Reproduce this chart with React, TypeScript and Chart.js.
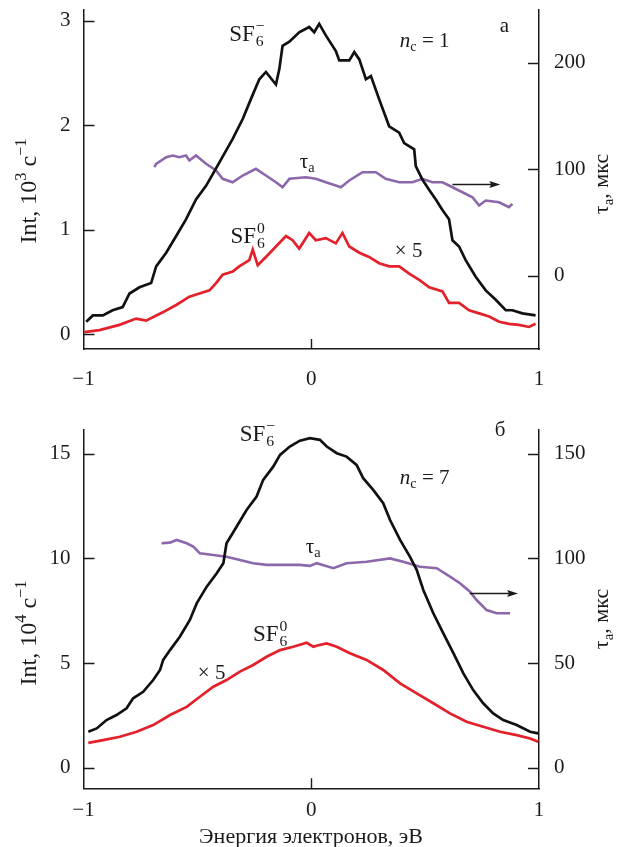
import React, { useEffect, useRef } from "react";
import { Chart, registerables } from "chart.js";

Chart.register(...registerables);

const FONT = '"Liberation Serif", "Times New Roman", serif';
const INK = "#1a1a1a";
const BLACK = "#111111";
const RED = "#e4202a";
const PURPLE = "#8c67aa";

// ---------- Panel "а" (n_c = 1) ----------
const topSfMinusX = [-0.988,-0.959,-0.915,-0.872,-0.828,-0.798,-0.754,-0.703,-0.681,-0.637,-0.593,-0.550,-0.506,-0.462,-0.433,-0.389,-0.345,-0.301,-0.265,-0.228,-0.199,-0.155,-0.140,-0.126,-0.096,-0.053,-0.009,0.013,0.035,0.064,0.108,0.123,0.167,0.189,0.211,0.240,0.262,0.298,0.342,0.386,0.408,0.452,0.459,0.488,0.518,0.547,0.576,0.605,0.620,0.649,0.678,0.722,0.766,0.810,0.854,0.883,0.927,0.985];
const topSfMinusY = [0.12,0.18,0.18,0.23,0.26,0.39,0.45,0.49,0.65,0.78,0.94,1.10,1.29,1.42,1.53,1.70,1.87,2.06,2.25,2.44,2.51,2.39,2.54,2.76,2.80,2.89,2.94,2.89,2.97,2.86,2.71,2.62,2.62,2.70,2.63,2.44,2.47,2.25,1.99,1.93,1.83,1.77,1.61,1.48,1.38,1.29,1.19,1.10,0.90,0.84,0.71,0.55,0.42,0.33,0.23,0.23,0.20,0.18];
const topSfZeroX = [-0.996,-0.930,-0.842,-0.769,-0.725,-0.652,-0.593,-0.535,-0.491,-0.447,-0.418,-0.389,-0.345,-0.316,-0.272,-0.257,-0.235,-0.199,-0.155,-0.111,-0.082,-0.053,-0.009,0.020,0.064,0.108,0.137,0.167,0.211,0.254,0.298,0.342,0.386,0.430,0.474,0.518,0.576,0.605,0.649,0.693,0.737,0.781,0.825,0.868,0.912,0.956,0.985];
const topSfZeroY = [0.02,0.04,0.09,0.15,0.13,0.21,0.28,0.36,0.39,0.42,0.49,0.57,0.60,0.65,0.71,0.81,0.66,0.74,0.84,0.94,0.90,0.82,0.97,0.90,0.92,0.87,0.97,0.84,0.78,0.74,0.68,0.65,0.65,0.58,0.52,0.45,0.41,0.30,0.30,0.23,0.20,0.17,0.12,0.10,0.09,0.07,0.10];
const topTauX = [-0.689,-0.681,-0.637,-0.608,-0.579,-0.550,-0.535,-0.506,-0.462,-0.418,-0.389,-0.345,-0.301,-0.243,-0.199,-0.155,-0.126,-0.096,-0.023,0.020,0.064,0.108,0.130,0.167,0.225,0.284,0.327,0.386,0.444,0.488,0.532,0.576,0.605,0.664,0.708,0.737,0.766,0.825,0.868,0.883];
const topTauY = [101.7,104.9,111.1,112.7,111.1,112.7,108.0,112.7,104.9,98.6,90.8,87.6,93.9,100.2,93.9,87.6,82.9,90.8,92.3,90.8,87.6,84.5,82.9,89.2,97.0,97.0,90.8,87.6,87.6,90.8,87.6,87.6,84.5,78.2,73.5,65.7,70.4,68.8,64.1,67.3];

// ---------- Panel "б" (n_c = 7) ----------
const botSfMinusX = [-0.979,-0.942,-0.899,-0.855,-0.811,-0.782,-0.738,-0.694,-0.664,-0.650,-0.620,-0.577,-0.533,-0.503,-0.459,-0.415,-0.386,-0.372,-0.328,-0.284,-0.240,-0.211,-0.167,-0.137,-0.094,-0.050,-0.006,0.038,0.068,0.112,0.155,0.199,0.228,0.272,0.316,0.346,0.390,0.433,0.463,0.492,0.536,0.580,0.624,0.668,0.711,0.755,0.799,0.843,0.902,0.961,0.997];
const botSfMinusY = [1.72,1.88,2.28,2.52,2.84,3.32,3.63,4.19,4.67,5.15,5.62,6.26,7.06,7.85,8.65,9.29,9.77,10.72,11.51,12.31,12.95,13.75,14.38,14.94,15.34,15.62,15.74,15.66,15.34,15.02,14.86,14.46,13.83,13.27,12.63,11.83,10.88,10.08,9.45,8.49,7.38,6.42,5.47,4.51,3.71,3.08,2.60,2.28,2.04,1.72,1.64];
const botSfZeroX = [-0.979,-0.914,-0.840,-0.767,-0.694,-0.620,-0.547,-0.489,-0.430,-0.372,-0.313,-0.255,-0.196,-0.137,-0.079,-0.020,0.009,0.031,0.068,0.112,0.170,0.243,0.316,0.390,0.463,0.536,0.609,0.682,0.755,0.829,0.902,0.961,0.997];
const botSfZeroY = [1.19,1.32,1.48,1.72,2.04,2.52,2.91,3.39,3.87,4.19,4.59,4.91,5.30,5.62,5.78,5.97,5.78,5.85,5.94,5.78,5.47,5.15,4.67,4.03,3.55,3.08,2.60,2.20,1.96,1.72,1.56,1.40,1.24];
const botTauX = [-0.657,-0.621,-0.591,-0.547,-0.518,-0.489,-0.430,-0.372,-0.313,-0.255,-0.196,-0.108,-0.050,-0.006,0.024,0.097,0.155,0.243,0.346,0.404,0.477,0.551,0.609,0.653,0.697,0.726,0.770,0.814,0.873];
const botTauY = [107.2,107.5,108.8,107.2,105.6,102.4,101.6,100.8,99.2,97.7,96.9,96.9,96.9,96.4,97.7,95.3,97.7,98.4,100.0,98.4,96.0,95.3,91.3,88.1,84.1,80.1,75.3,73.8,73.8];

// ---------- Ticks ----------
const xTicks = [-1, 0, 1];
const topLeftTicks = [0, 1, 2, 3];
const topRightTicks = [0, 100, 200];
const botLeftTicks = [0, 5, 10, 15];
const botRightTicks = [0, 50, 100, 150];

type Seg = { t?: string; k?: "n" | "i" | "sub" | "sup"; sub?: string; sup?: string };

function drawRich(ctx: CanvasRenderingContext2D, segs: Seg[], x: number, y: number, size: number, align: "left" | "center") {
  const small = size * 0.68;
  const fontOf = (s: Seg) => {
    if (s.k === "sub" || s.k === "sup") return `${small}px ${FONT}`;
    if (s.k === "i") return `italic ${size}px ${FONT}`;
    return `${size}px ${FONT}`;
  };
  const widths = segs.map((s) => {
    if (s.sub !== undefined || s.sup !== undefined) {
      ctx.font = `${small}px ${FONT}`;
      return Math.max(ctx.measureText(s.sub || "").width, ctx.measureText(s.sup || "").width) + 1;
    }
    ctx.font = fontOf(s);
    return ctx.measureText(s.t || "").width;
  });
  const total = widths.reduce((a, b) => a + b, 0);
  let cx = align === "center" ? x - total / 2 : x;
  const base = y + size * 0.33;
  ctx.textAlign = "left";
  ctx.textBaseline = "alphabetic";
  segs.forEach((s, i) => {
    if (s.sub !== undefined || s.sup !== undefined) {
      ctx.font = `${small}px ${FONT}`;
      if (s.sub) ctx.fillText(s.sub, cx + 1, base + size * 0.24);
      if (s.sup) ctx.fillText(s.sup, cx + 1, base - size * 0.42);
    } else {
      ctx.font = fontOf(s);
      let yy = base;
      if (s.k === "sub") yy = base + size * 0.22;
      if (s.k === "sup") yy = base - size * 0.42;
      ctx.fillText(s.t || "", cx, yy);
    }
    cx += widths[i];
  });
}

type Ann = { x: number; y: number; axis: "y" | "y2"; segs: Seg[]; size: number };

const decorPlugin = {
  id: "decor",
  afterDraw(chart: any, _args: any, opts: any) {
    const { ctx, chartArea } = chart;
    const xs = chart.scales.x;
    const yl = chart.scales.y;
    const yr = chart.scales.y2;
    ctx.save();
    ctx.strokeStyle = INK;
    ctx.fillStyle = INK;
    ctx.lineWidth = 1.4;
    // inward tick marks
    ctx.beginPath();
    (opts.leftTicks || []).forEach((v: number) => {
      const p = Math.round(yl.getPixelForValue(v)) + 0.5;
      ctx.moveTo(chartArea.left, p);
      ctx.lineTo(chartArea.left + 11, p);
    });
    (opts.rightTicks || []).forEach((v: number) => {
      const p = Math.round(yr.getPixelForValue(v)) + 0.5;
      ctx.moveTo(chartArea.right, p);
      ctx.lineTo(chartArea.right - 11, p);
    });
    [0].forEach((v: number) => {
      const p = Math.round(xs.getPixelForValue(v)) + 0.5;
      ctx.moveTo(p, chartArea.bottom);
      ctx.lineTo(p, chartArea.bottom - 10);
    });
    ctx.stroke();

    // arrow
    const a = opts.arrow;
    if (a) {
      const x1 = xs.getPixelForValue(a.x1);
      const x2 = xs.getPixelForValue(a.x2);
      const py = Math.round(yr.getPixelForValue(a.y)) + 0.5;
      ctx.lineWidth = 1.3;
      ctx.beginPath();
      ctx.moveTo(x1, py);
      ctx.lineTo(x2 - 6, py);
      ctx.stroke();
      ctx.beginPath();
      ctx.moveTo(x2, py);
      ctx.lineTo(x2 - 11, py - 3.5);
      ctx.lineTo(x2 - 9, py);
      ctx.lineTo(x2 - 11, py + 3.5);
      ctx.closePath();
      ctx.fill();
    }

    // annotations
    ctx.fillStyle = INK;
    (opts.anns || []).forEach((an: Ann) => {
      const px = xs.getPixelForValue(an.x);
      const py = (an.axis === "y2" ? yr : yl).getPixelForValue(an.y);
      drawRich(ctx, an.segs, px, py, an.size, "left");
    });

    // axis titles
    const lt = opts.leftTitle;
    if (lt) {
      ctx.save();
      ctx.translate(lt.x, lt.y);
      ctx.rotate(-Math.PI / 2);
      drawRich(ctx, lt.segs, 0, 0, lt.size, "center");
      ctx.restore();
    }
    const rt = opts.rightTitle;
    if (rt) {
      ctx.save();
      ctx.translate(rt.x, rt.y);
      ctx.rotate(-Math.PI / 2);
      drawRich(ctx, rt.segs, 0, 0, rt.size, "center");
      ctx.restore();
    }
    const xt = opts.xTitle;
    if (xt) {
      drawRich(ctx, xt.segs, xt.x, xt.y, xt.size, "center");
    }
    ctx.restore();
  },
};

const pts = (xs: number[], ys: number[]) => xs.map((x, i) => ({ x, y: ys[i] }));
const fmt = (v: number) => (v < 0 ? "\u2212" + Math.abs(v) : String(v));

function makeConfig(p: any) {
  const tickFont = { family: FONT, size: 21 };
  const noPadV = (s: any) => { s.paddingTop = 0; s.paddingBottom = 0; };
  return {
    type: "line",
    data: {
      datasets: [
        { data: pts(p.blackX, p.blackY), yAxisID: "y", borderColor: BLACK, borderWidth: 2.7, pointRadius: 0, tension: 0 },
        { data: pts(p.redX, p.redY), yAxisID: "y", borderColor: RED, borderWidth: 2.7, pointRadius: 0, tension: 0 },
        { data: pts(p.tauX, p.tauY), yAxisID: "y2", borderColor: PURPLE, borderWidth: 2.6, pointRadius: 0, tension: 0 },
      ],
    },
    options: {
      responsive: false,
      animation: false,
      devicePixelRatio: 1,
      layout: { padding: { top: p.padTop, left: 0, right: 0, bottom: 0 } },
      plugins: {
        legend: { display: false },
        tooltip: { enabled: false },
        decor: p.decor,
      },
      scales: {
        x: {
          type: "linear",
          min: -1,
          max: 1,
          afterBuildTicks: (s: any) => { s.ticks = xTicks.map((v) => ({ value: v })); },
          afterFit: (s: any) => { s.height = p.xAxisH; s.paddingLeft = 0; s.paddingRight = 0; },
          grid: { display: false, drawTicks: false },
          border: { display: true, color: INK, width: 1.5 },
          ticks: { font: tickFont, color: INK, padding: p.xPad, callback: (v: any) => fmt(v), maxRotation: 0 },
        },
        y: {
          position: "left",
          min: p.yMin,
          max: p.yMax,
          afterBuildTicks: (s: any) => { s.ticks = p.leftTicks.map((v: number) => ({ value: v })); },
          afterFit: (s: any) => { s.width = 83.5; noPadV(s); },
          grid: { display: false, drawTicks: false },
          border: { display: true, color: INK, width: 1.5 },
          ticks: { font: tickFont, color: INK, padding: 13, callback: (v: any) => fmt(v) },
        },
        y2: {
          position: "right",
          min: p.y2Min,
          max: p.y2Max,
          afterBuildTicks: (s: any) => { s.ticks = p.rightTicks.map((v: number) => ({ value: v })); },
          afterFit: (s: any) => { s.width = 79; noPadV(s); },
          grid: { display: false, drawTicks: false },
          border: { display: true, color: INK, width: 1.5 },
          ticks: { font: tickFont, color: INK, padding: 15, callback: (v: any) => fmt(v) },
        },
      },
    },
    plugins: [decorPlugin],
  };
}

const sfMinus: Seg[] = [{ t: "SF" }, { sub: "6", sup: "\u2212" }];
const sfZero: Seg[] = [{ t: "SF" }, { sub: "6", sup: "0" }];
const tauSegs: Seg[] = [{ t: "\u03C4" }, { t: "a", k: "sub" }];
const times5: Seg[] = [{ t: "\u00D7 5" }];
const tauTitle: Seg[] = [{ t: "\u03C4" }, { t: "a", k: "sub" }, { t: ", \u043C\u043A\u0441" }];

const topParams = {
  blackX: topSfMinusX, blackY: topSfMinusY,
  redX: topSfZeroX, redY: topSfZeroY,
  tauX: topTauX, tauY: topTauY,
  yMin: -0.141, yMax: 3.103, y2Min: -69.0, y2Max: 249.3,
  leftTicks: topLeftTicks, rightTicks: topRightTicks,
  padTop: 10, xAxisH: 51, xPad: 18,
  decor: {
    leftTicks: topLeftTicks,
    rightTicks: topRightTicks,
    arrow: { x1: 0.62, x2: 0.83, y: 86 },
    anns: [
      { x: -0.36, y: 2.88, axis: "y", segs: sfMinus, size: 23 },
      { x: 0.389, y: 2.82, axis: "y", segs: [{ t: "n", k: "i" }, { t: "c", k: "sub" }, { t: " = 1" }], size: 21 },
      { x: 0.828, y: 2.96, axis: "y", segs: [{ t: "\u0430" }], size: 21 },
      { x: -0.05, y: 1.66, axis: "y", segs: tauSegs, size: 21 },
      { x: -0.355, y: 0.95, axis: "y", segs: sfZero, size: 23 },
      { x: 0.367, y: 0.81, axis: "y", segs: times5, size: 21 },
    ],
    leftTitle: { x: 28, y: 191, size: 24, segs: [{ t: "Int, 10" }, { t: "3", k: "sup" }, { t: " \u0441" }, { t: "\u22121", k: "sup" }] },
    rightTitle: { x: 601, y: 184, size: 22, segs: tauTitle },
  },
};

const botParams = {
  blackX: botSfMinusX, blackY: botSfMinusY,
  redX: botSfZeroX, redY: botSfZeroY,
  tauX: botTauX, tauY: botTauY,
  yMin: -0.98, yMax: 16.13, y2Min: -9.8, y2Max: 161.3,
  leftTicks: botLeftTicks, rightTicks: botRightTicks,
  padTop: 30, xAxisH: 58.7, xPad: 10,
  decor: {
    leftTicks: botLeftTicks,
    rightTicks: botRightTicks,
    arrow: { x1: 0.696, x2: 0.908, y: 83.3 },
    anns: [
      { x: -0.314, y: 15.99, axis: "y", segs: sfMinus, size: 23 },
      { x: 0.806, y: 16.18, axis: "y", segs: [{ t: "\u0431" }], size: 21 },
      { x: 0.389, y: 13.89, axis: "y", segs: [{ t: "n", k: "i" }, { t: "c", k: "sub" }, { t: " = 7" }], size: 21 },
      { x: -0.024, y: 10.6, axis: "y", segs: tauSegs, size: 21 },
      { x: -0.256, y: 6.44, axis: "y", segs: sfZero, size: 23 },
      { x: -0.498, y: 4.57, axis: "y", segs: times5, size: 21 },
    ],
    leftTitle: { x: 28, y: 233, size: 24, segs: [{ t: "Int, 10" }, { t: "4", k: "sup" }, { t: " \u0441" }, { t: "\u22121", k: "sup" }] },
    rightTitle: { x: 601, y: 219, size: 22, segs: tauTitle },
    xTitle: { x: 311, y: 436, size: 22, segs: [{ t: "\u042D\u043D\u0435\u0440\u0433\u0438\u044F \u044D\u043B\u0435\u043A\u0442\u0440\u043E\u043D\u043E\u0432, \u044D\u0412" }] },
  },
};

function Panel({ params, top, height }: { params: any; top: number; height: number }) {
  const ref = useRef<HTMLCanvasElement | null>(null);
  useEffect(() => {
    if (!ref.current) return;
    const chart = new Chart(ref.current, makeConfig(params) as any);
    return () => chart.destroy();
  }, [params]);
  return (
    <canvas
      ref={ref}
      width={618}
      height={height}
      style={{ position: "absolute", left: 0, top, width: 618, height, display: "block" }}
    />
  );
}

export default function App() {
  return (
    <div style={{ position: "absolute", left: 0, top: 0, width: 618, height: 847, background: "#ffffff", overflow: "hidden" }}>
      <Panel params={topParams} top={0} height={400} />
      <Panel params={botParams} top={400} height={447} />
    </div>
  );
}
